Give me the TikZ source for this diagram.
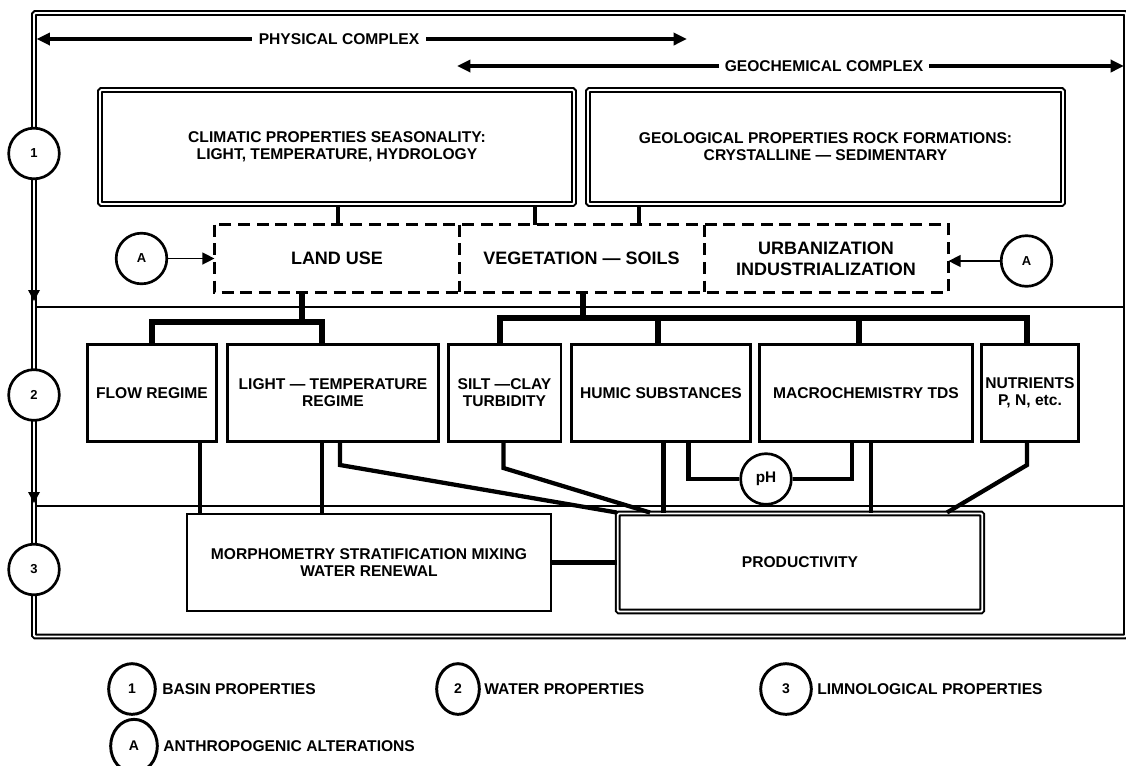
\documentclass[tikz,border=0pt]{standalone}
\usepackage{fontspec}
\setmainfont{Liberation Sans}
\usetikzlibrary{arrows.meta,shapes.geometric}
\begin{document}
\begin{tikzpicture}[x=0.75pt,y=-0.75pt,
  every node/.style={font=\bfseries\fontsize{11.7}{12.8}\selectfont, inner sep=1pt, align=center},
  dbl/.style={draw, double, double distance=1.4pt, line width=1.5pt, rounded corners=1pt},
  solidbox/.style={draw, line width=1.9pt, minimum height=72.4pt},
  dashbox/.style={font=\bfseries\fontsize{13.5}{15.75}\selectfont, minimum width=183.5pt, minimum height=50.25pt},
  dashline/.style={line width=2.1pt, dash pattern=on 9pt off 5pt},
  circ/.style={circle, draw, fill=white, line width=2pt, minimum size=38pt, inner sep=0pt, font=\bfseries\fontsize{9.75}{11}\selectfont},
  conn/.style={line width=3pt},
  bar/.style={line width=4.1pt},
  link/.style={line width=3.2pt},
  bigarrow/.style={line width=2.8pt, -{Triangle[length=10pt,width=9pt]}},
  thinarrow/.style={line width=1pt, -{Triangle[length=9pt,width=9pt]}},
  divider/.style={line width=1.3pt},
  legcirc/.style={ellipse, draw, line width=2.2pt, inner sep=0pt, font=\bfseries\fontsize{10.5}{12}\selectfont},
  legtext/.style={anchor=west, inner sep=0pt}
]
\useasboundingbox (0,0) rectangle (1126,765);
% outer frame
\draw[dbl] (34,13) rectangle (1126,636.5);
\fill (28,290) -- (40,290) -- (34,301) -- cycle;
\fill (28,492) -- (40,492) -- (34,503) -- cycle;
\draw[divider] (35.5,307) -- (1124,307);
\draw[divider] (35.5,506) -- (1124,506);
\node[circ] (c1) at (34,153.5) {1};
\node[circ] (c2) at (34,395) {2};
\node[circ] (c3) at (34,569.5) {3};
% complexes
\node[inner xsep=5pt] (phys) at (339,39) {PHYSICAL COMPLEX};
\coordinate (physL) at (36.5,39);
\coordinate (physR) at (687,39);
\draw[bigarrow] (phys.west) -- (physL);
\draw[bigarrow] (phys.east) -- (physR);
\node[inner xsep=4pt] (geo) at (824,66) {GEOCHEMICAL COMPLEX};
\coordinate (geoL) at (457,66);
\coordinate (geoR) at (1124,66);
\draw[bigarrow] (geo.west) -- (geoL);
\draw[bigarrow] (geo.east) -- (geoR);
% basin boxes
\node[dbl, minimum width=355.5pt, minimum height=85.5pt] (clim) at (337,147) {CLIMATIC PROPERTIES SEASONALITY:\\LIGHT, TEMPERATURE, HYDROLOGY};
\node[dbl, minimum width=356.25pt, minimum height=85.5pt] (geol) at (825.5,147) {GEOLOGICAL PROPERTIES ROCK FORMATIONS:\\CRYSTALLINE — SEDIMENTARY};
% dashed boxes
\node[dashbox] (land) at (337,258.5) {LAND USE};
\node[dashbox] (veg) at (581.5,258.5) {VEGETATION — SOILS};
\node[dashbox] (urb) at (826,258.5) {URBANIZATION\\INDUSTRIALIZATION};
\draw[dashline] (land.north west) rectangle (urb.south east);
\draw[dashline] (land.north east) -- (land.south east);
\draw[dashline] (veg.north east) -- (veg.south east);
\draw[conn] (clim.south -| 338,0) -- (land.north -| 338,0);
\draw[conn] (clim.south -| 535,0) -- (veg.north -| 535,0);
\draw[conn] (geol.south -| 639,0) -- (veg.north -| 639,0);
% anthropogenic
\node[circ] (aL) at (141.5,258.5) {A};
\node[circ] (aR) at (1026.5,261) {A};
\draw[thinarrow] (aL.east) -- (aL.east -| land.west);
\draw[thinarrow] (aR.west) -- (aR.west -| urb.east);
% water properties
\node[solidbox, minimum width=96.75pt] (flow) at (152,393) {FLOW REGIME};
\node[solidbox, minimum width=158.6pt] (lt) at (333,393) {LIGHT — TEMPERATURE\\REGIME};
\node[solidbox, minimum width=84.4pt] (silt) at (504.5,393) {SILT —CLAY\\TURBIDITY};
\node[solidbox, minimum width=133.9pt] (hum) at (661,393) {HUMIC SUBSTANCES};
\node[solidbox, minimum width=159.4pt] (mac) at (866,393) {MACROCHEMISTRY TDS};
\node[solidbox, minimum width=72.4pt] (nut) at (1030,393) {NUTRIENTS\\P, N, etc.};
\draw[bar] (land.south -| 302,0) -- (302,322);
\draw[bar] (flow.north) |- (322,322) -- (lt.north -| 322,0);
\draw[bar] (veg.south -| 583,0) -- (583,318);
\draw[bar] (silt.north -| 500,0) |- (1027,318) -- (nut.north -| 1027,0);
\draw[bar] (hum.north -| 658,0) -- (658,318);
\draw[bar] (mac.north -| 859,0) -- (859,318);
% limnological
\node[solidbox, minimum width=273pt, minimum height=72.75pt] (morph) at (369,562.5) {MORPHOMETRY STRATIFICATION MIXING\\WATER RENEWAL};
\node[dbl, minimum width=273.4pt, minimum height=73.5pt] (prod) at (800,562.5) {PRODUCTIVITY};
\node[circ, font=\bfseries\fontsize{11.5}{13}\selectfont] (ph) at (766,479) {pH};
\draw[link] (flow.south -| 200,0) -- (morph.north -| 200,0);
\draw[link] (lt.south -| 322,0) -- (morph.north -| 322,0);
\draw[link] (lt.south -| 340,0) -- (340,465) -- (prod.north west);
\draw[link] (silt.south -| 503.5,0) -- (503.5,468) -- (prod.north -| 650,0);
\draw[link] (hum.south -| 663.5,0) -- (prod.north -| 663.5,0);
\draw[link] (hum.south -| 688.5,0) |- (ph.west);
\draw[link] (mac.south -| 852,0) |- (ph.east);
\draw[link] (mac.south -| 871,0) -- (prod.north -| 871,0);
\draw[link] (nut.south -| 1027,0) -- (1027,465) -- (prod.north -| 947,0);
\draw[link] (morph.east) -- (prod.west);
% legend
\node[legcirc, minimum width=35pt, minimum height=38pt] (l1) at (132,689) {1};
\node[legtext] (t1) at (162,689) {BASIN PROPERTIES};
\node[legcirc, minimum width=32pt, minimum height=38pt] (l2) at (458,689) {2};
\node[legtext] (t2) at (484,689) {WATER PROPERTIES};
\node[legcirc, minimum width=38pt, minimum height=38pt] (l3) at (786,689) {3};
\node[legtext] (t3) at (817,689) {LIMNOLOGICAL PROPERTIES};
\node[legcirc, minimum width=35pt, minimum height=40pt] (lA) at (134,746) {A};
\node[legtext] (tA) at (163,746) {ANTHROPOGENIC ALTERATIONS};
\end{tikzpicture}
\end{document}
